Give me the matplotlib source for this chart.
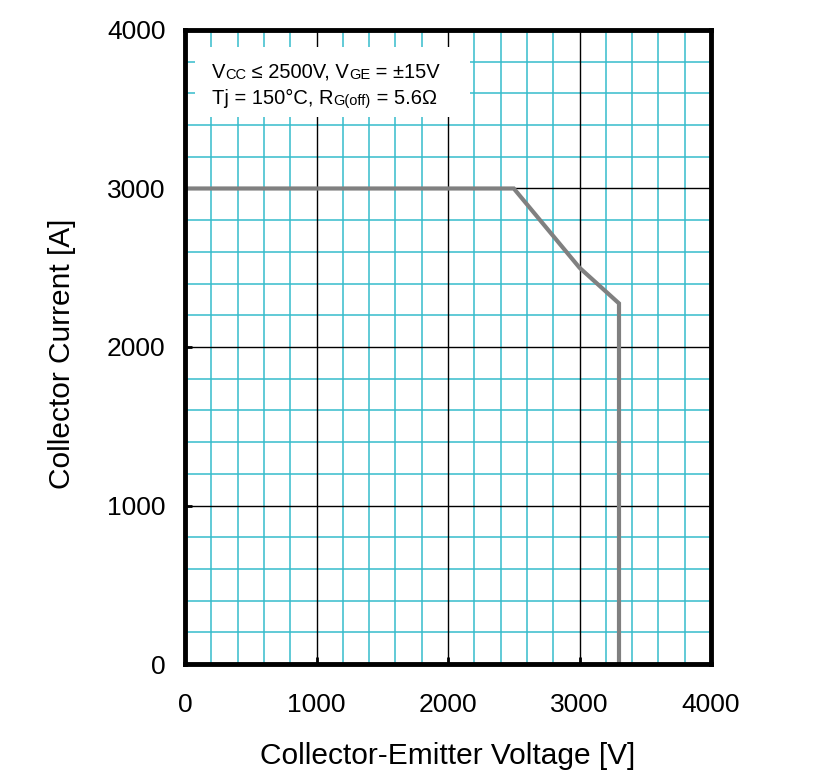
import matplotlib
matplotlib.use("Agg")
import matplotlib.pyplot as plt
from matplotlib.patches import Rectangle

# RBSOA curve
vce = [0, 2500, 2800, 3000, 3300, 3300]
ic = [3000, 3000, 2700, 2500, 2275, 0]

x_ticks = [0, 1000, 2000, 3000, 4000]
y_ticks = [0, 1000, 2000, 3000, 4000]

# condition text, split into (text, fontsize) pieces so the subscripts stay on the baseline
cond_line1 = [("V", 14.5), ("CC", 10.5), (" \u2264 2500V, V", 14.5), ("GE", 10.5), (" = \u00b115V", 14.5)]
cond_line2 = [("Tj = 150\u00b0C, R", 14.5), ("G(off)", 10.5), (" = 5.6\u03a9", 14.5)]

plt.rcParams['font.family'] = ['Liberation Sans', 'DejaVu Sans']


def rich_text(ax, x, y, parts):
    # first piece anchored in data coords, the rest chained to the right of the previous one
    prev = ax.text(x, y, parts[0][0], fontsize=parts[0][1], va="baseline", zorder=4)
    for txt, size in parts[1:]:
        prev = ax.annotate(txt, xy=(1, 0), xycoords=prev, fontsize=size,
                           va="bottom", ha="left", zorder=4)
    return prev


fig = plt.figure(figsize=(8.13, 7.81), dpi=100)
ax = fig.add_axes([0.2276, 0.1498, 0.6470, 0.8118])

ax.set_xlim(0, 4000)
ax.set_ylim(0, 4000)

# minor cyan grid every 200, major black grid every 1000
for v in range(200, 4000, 200):
    if v % 1000 == 0:
        continue
    ax.axvline(v, color="#36bccb", lw=1.1, zorder=1)
    ax.axhline(v, color="#36bccb", lw=1.1, zorder=1)
for v in x_ticks[1:-1]:
    ax.axvline(v, color="black", lw=1.0, zorder=2)
    ax.axhline(v, color="black", lw=1.0, zorder=2)

# condition box
ax.add_patch(Rectangle((76, 3450), 2090, 440, facecolor="white", edgecolor="none", zorder=3))
rich_text(ax, 205, 3700, cond_line1)
rich_text(ax, 205, 3535, cond_line2)

ax.plot(vce, ic, color="#808080", lw=3, zorder=5, solid_joinstyle="miter")

ax.set_xticks(x_ticks)
ax.set_yticks(y_ticks)
ax.tick_params(direction="in", length=5, width=2, labelsize=19)
ax.tick_params(axis="x", pad=21)
ax.tick_params(axis="y", pad=14)
for s in ax.spines.values():
    s.set_linewidth(3.5)
    s.set_zorder(6)

ax.set_xlabel("Collector-Emitter Voltage [V]", fontsize=21.5, va="center")
ax.set_ylabel("Collector Current [A]", fontsize=21.5, va="center")
ax.xaxis.set_label_coords(0.5, -0.145)
ax.yaxis.set_label_coords(-0.234, 0.49)

fig.savefig("out.png", dpi=100)
